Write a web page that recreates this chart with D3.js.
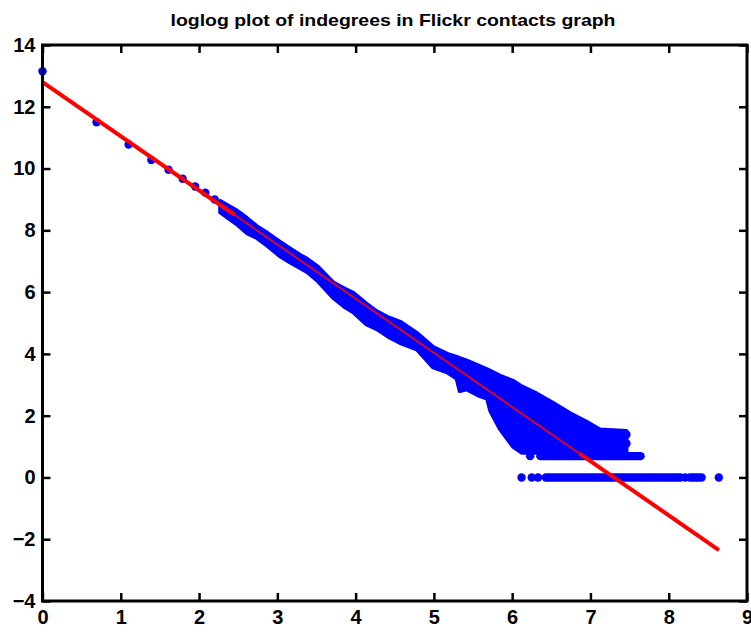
<!DOCTYPE html>
<html>
<head>
<meta charset="utf-8">
<script src="https://cdn.jsdelivr.net/npm/d3@7"></script>
<style>
  body { margin: 0; background: #fff; }
  svg { display: block; }
  text { font-family: "Liberation Sans", Arial, sans-serif; font-weight: bold; fill: #000; }
</style>
</head>
<body>
<svg id="chart" width="751" height="632"></svg>
<script>
// Axis ticks
const xTicks = [0, 1, 2, 3, 4, 5, 6, 7, 8, 9];
const yTicks = [-4, -2, 0, 2, 4, 6, 8, 10, 12, 14];

// log(indegree) vs log(count): isolated points at the low-degree end
const sparseX = [0.00, 0.69, 1.10, 1.39, 1.61, 1.79, 1.95, 2.08, 2.20];
const sparseY = [13.15, 11.50, 10.78, 10.28, 9.96, 9.67, 9.42, 9.22, 9.00];

// Dense part of the scatter: vertical extent of the point cloud at each log-degree
const cloudX  = [2.27, 2.47, 2.61, 2.74, 2.87, 3.04, 3.17, 3.29, 3.38, 3.52, 3.72, 3.87, 3.97, 4.14, 4.27, 4.42, 4.57, 4.78, 4.99, 5.17, 5.29, 5.33, 5.42, 5.57, 5.68, 5.72, 5.84, 6.01, 6.12, 6.31, 6.53, 6.74, 6.95, 7.12, 7.46];
const cloudLo = [8.58, 8.22, 7.91, 7.75, 7.50, 7.15, 6.95, 6.78, 6.65, 6.35, 5.80, 5.50, 5.35, 4.95, 4.80, 4.55, 4.35, 4.15, 3.56, 3.40, 3.20, 2.80, 2.85, 2.65, 2.55, 2.16, 1.58, 1.00, 0.80, 0.80, 0.80, 0.80, 0.80, 0.80, 0.80];
const cloudHi = [8.95, 8.66, 8.40, 8.13, 7.92, 7.62, 7.40, 7.20, 7.08, 6.82, 6.30, 6.10, 5.98, 5.62, 5.38, 5.18, 5.04, 4.68, 4.22, 4.00, 3.90, 3.86, 3.78, 3.62, 3.50, 3.45, 3.30, 3.13, 2.95, 2.72, 2.40, 2.08, 1.80, 1.55, 1.50];

// Runs of consecutive degrees sharing a small count (count 1 -> 0, count 2 -> 0.69)
const runY     = [0.00, 0.00, 0.69];
const runStart = [6.43, 8.27, 6.36];
const runEnd   = [8.15, 8.42, 7.64];

// Single points at the tail
const tailX = [6.12, 6.25, 6.33, 8.21, 8.64, 6.23, 7.16, 7.31, 7.46, 7.31, 7.46];
const tailY = [0.00, 0.00, 0.00, 0.00, 0.00, 0.69, 1.39, 1.39, 1.39, 1.10, 1.10];

// Least-squares fit line
const fitX = [0.00, 8.64];
const fitY = [12.80, -2.35];
// Parts of the fit drawn heavy (where they lie outside the dense cloud)
const heavyFrom = [0.00, 6.86];
const heavyTo   = [2.45, 8.64];

const titleText = "loglog plot of indegrees in Flickr contacts graph";

(function draw() {
  const svg = d3.select("#chart");
  const m = { left: 42.5, right: 747, top: 45, bottom: 601 };

  const x = d3.scaleLinear().domain([0, 9]).range([m.left, m.right]);
  const y = d3.scaleLinear().domain([-4, 14]).range([m.bottom, m.top]);

  const BLUE = "#0000ff", RED = "#ff0000";
  const R = 4.2;

  // Title
  svg.append("text")
    .attr("x", 393).attr("y", 26)
    .attr("text-anchor", "middle")
    .attr("font-size", 17)
    .attr("textLength", 445)
    .attr("lengthAdjust", "spacingAndGlyphs")
    .text(titleText);

  const plot = svg.append("g");

  // Dense cloud as a filled band (the stroke rounds its edges like marker outlines)
  const cloud = cloudX.map((d, i) => ({ x: d, lo: cloudLo[i], hi: cloudHi[i] }));
  plot.append("path")
    .datum(cloud)
    .attr("fill", BLUE)
    .attr("stroke", BLUE)
    .attr("stroke-width", 4)
    .attr("stroke-linejoin", "round")
    .attr("d", d3.area().x(d => x(d.x)).y0(d => y(d.lo)).y1(d => y(d.hi)));

  // Runs of equal-count degrees
  plot.selectAll("line.run")
    .data(runY.map((d, i) => ({ y: d, a: runStart[i], b: runEnd[i] })))
    .join("line")
    .attr("class", "run")
    .attr("x1", d => x(d.a)).attr("x2", d => x(d.b))
    .attr("y1", d => y(d.y)).attr("y2", d => y(d.y))
    .attr("stroke", BLUE)
    .attr("stroke-width", 2 * R)
    .attr("stroke-linecap", "round");

  // Individual points
  const pts = sparseX.map((d, i) => [d, sparseY[i]])
    .concat(tailX.map((d, i) => [d, tailY[i]]));
  plot.selectAll("circle.pt")
    .data(pts)
    .join("circle")
    .attr("class", "pt")
    .attr("cx", d => x(d[0]))
    .attr("cy", d => y(d[1]))
    .attr("r", R)
    .attr("fill", BLUE);

  // Fit line: thin over the whole range, heavy where it is clear of the cloud
  const slope = (fitY[1] - fitY[0]) / (fitX[1] - fitX[0]);
  const fitAt = v => fitY[0] + slope * (v - fitX[0]);
  const lineGen = d3.line().x(d => x(d[0])).y(d => y(d[1]));

  plot.append("path")
    .datum([[fitX[0], fitY[0]], [fitX[1], fitY[1]]])
    .attr("fill", "none")
    .attr("stroke", RED)
    .attr("stroke-width", 1.6)
    .attr("d", lineGen);

  heavyFrom.forEach((a, i) => {
    const b = heavyTo[i];
    plot.append("path")
      .datum([[a, fitAt(a)], [b, fitAt(b)]])
      .attr("fill", "none")
      .attr("stroke", RED)
      .attr("stroke-width", 4)
      .attr("d", lineGen);
  });

  // Axes: ticks point inward on all four sides, labels on bottom and left
  const TICK = 8;
  const axB = svg.append("g").attr("transform", `translate(0,${m.bottom})`)
    .call(d3.axisBottom(x).tickValues(xTicks).tickFormat(d3.format("d")).tickSizeInner(-TICK).tickSizeOuter(0).tickPadding(9));
  const axT = svg.append("g").attr("transform", `translate(0,${m.top})`)
    .call(d3.axisTop(x).tickValues(xTicks).tickFormat("").tickSizeInner(-TICK).tickSizeOuter(0));
  const axL = svg.append("g").attr("transform", `translate(${m.left},0)`)
    .call(d3.axisLeft(y).tickValues(yTicks).tickFormat(d3.format("d")).tickSizeInner(-TICK).tickSizeOuter(0).tickPadding(7));
  const axR = svg.append("g").attr("transform", `translate(${m.right},0)`)
    .call(d3.axisRight(y).tickValues(yTicks).tickFormat("").tickSizeInner(-TICK).tickSizeOuter(0));

  [axB, axT, axL, axR].forEach(g => {
    g.select(".domain").remove();
    g.selectAll(".tick line").attr("stroke", "#000").attr("stroke-width", 2.5);
    g.selectAll(".tick text")
      .attr("font-size", 20)
      .attr("font-family", "\"Liberation Sans\", Arial, sans-serif")
      .attr("font-weight", "bold")
      .attr("fill", "#000");
  });

  // Plot frame
  svg.append("rect")
    .attr("x", m.left).attr("y", m.top)
    .attr("width", m.right - m.left).attr("height", m.bottom - m.top)
    .attr("fill", "none")
    .attr("stroke", "#000")
    .attr("stroke-width", 3);
})();
</script>
</body>
</html>
